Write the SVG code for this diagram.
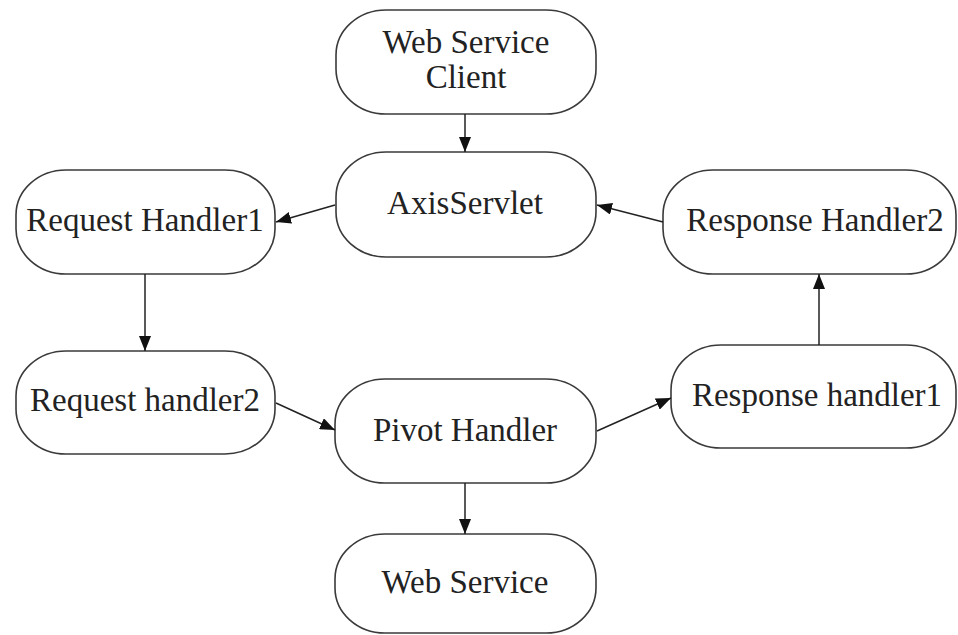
<svg xmlns="http://www.w3.org/2000/svg" width="958" height="635" viewBox="0 0 958 635">
  <style>
    .box { fill: #ffffff; stroke: #3a3a3a; stroke-width: 1.6; }
    .lbl { font-size: 33px; fill: #222222; text-anchor: middle; }
    .edge { stroke: #222222; stroke-width: 1.5; fill: none; marker-end: url(#arrow); }
  </style>
  <defs>
    <marker id="arrow" markerUnits="userSpaceOnUse" markerWidth="16" markerHeight="12" refX="15" refY="6" orient="auto">
      <path d="M0,0 L15,6 L0,12 Z" fill="#111111"/>
    </marker>
  </defs>
  <rect width="958" height="635" fill="#ffffff"/>

  <g id="nodes" font-family="'Liberation Serif', 'DejaVu Serif', serif">
    <g id="client">
      <rect class="box" x="336" y="10" width="260" height="104" rx="50" ry="45"/>
      <text class="lbl" x="466" y="53">Web Service</text>
      <text class="lbl" x="466" y="88">Client</text>
    </g>
    <g id="axis-servlet">
      <rect class="box" x="336" y="152" width="260" height="105" rx="50" ry="45"/>
      <text class="lbl" x="465" y="214">AxisServlet</text>
    </g>
    <g id="request-handler1">
      <rect class="box" x="16" y="170" width="259" height="104" rx="50" ry="45"/>
      <text class="lbl" x="145" y="231">Request Handler1</text>
    </g>
    <g id="response-handler2">
      <rect class="box" x="663" y="170" width="293" height="104" rx="50" ry="45"/>
      <text class="lbl" x="815" y="231">Response Handler2</text>
    </g>
    <g id="request-handler2">
      <rect class="box" x="16" y="351" width="259" height="103" rx="50" ry="45"/>
      <text class="lbl" x="145" y="411">Request handler2</text>
    </g>
    <g id="response-handler1">
      <rect class="box" x="671" y="345" width="285" height="103" rx="50" ry="45"/>
      <text class="lbl" x="817" y="406">Response handler1</text>
    </g>
    <g id="pivot-handler">
      <rect class="box" x="335" y="379" width="261" height="104" rx="50" ry="45"/>
      <text class="lbl" x="465" y="441">Pivot Handler</text>
    </g>
    <g id="web-service">
      <rect class="box" x="335" y="534" width="261" height="99" rx="50" ry="45"/>
      <text class="lbl" x="465" y="593">Web Service</text>
    </g>
  </g>

  <g id="connectors">
    <line class="edge" x1="465" y1="114" x2="465" y2="152"/>
    <line class="edge" x1="335" y1="205" x2="276" y2="222"/>
    <line class="edge" x1="145" y1="274" x2="145" y2="351"/>
    <line class="edge" x1="276" y1="403" x2="335" y2="430"/>
    <line class="edge" x1="597" y1="431" x2="671" y2="398"/>
    <line class="edge" x1="819" y1="345" x2="819" y2="274"/>
    <line class="edge" x1="663" y1="222" x2="597" y2="205"/>
    <line class="edge" x1="465" y1="483" x2="465" y2="534"/>
  </g>
</svg>
